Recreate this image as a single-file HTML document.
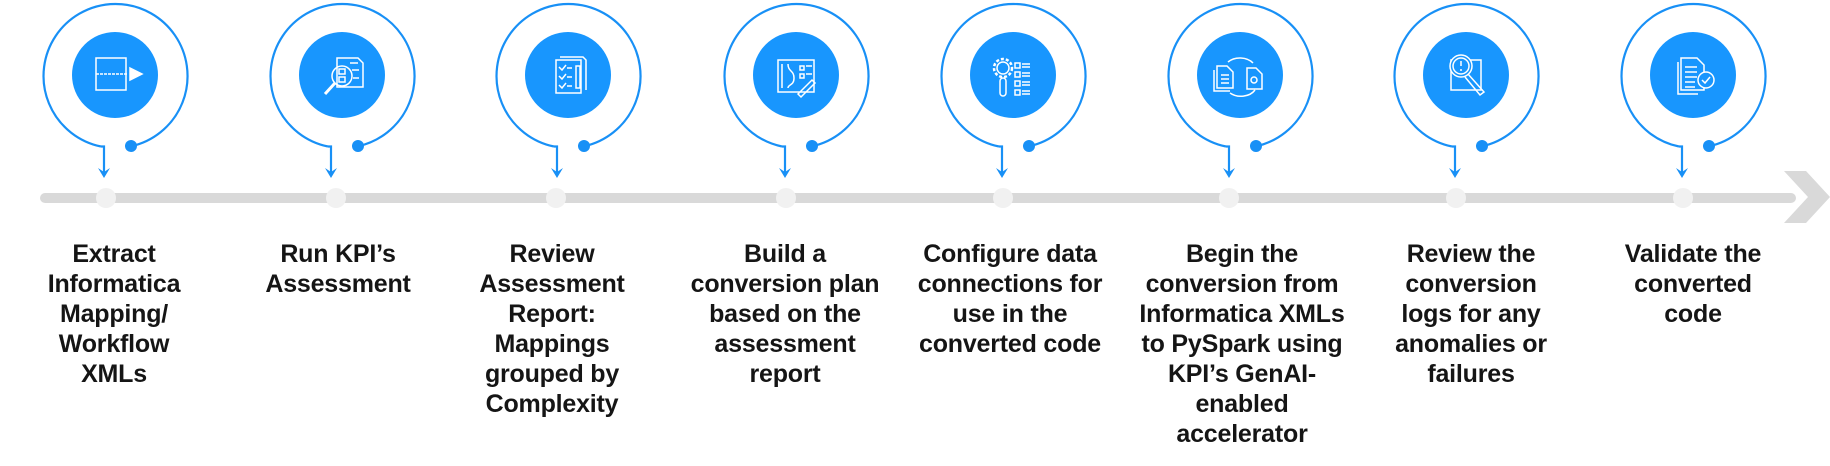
<!DOCTYPE html>
<html><head><meta charset="utf-8"><style>
html,body{margin:0;padding:0;background:#fff;}
body{width:1830px;height:466px;position:relative;overflow:hidden;font-family:"Liberation Sans",Arial,sans-serif;}
svg{position:absolute;left:0;top:0;}
.t{position:absolute;top:239px;width:280px;margin-left:-140px;text-align:center;font-size:25px;line-height:30px;font-weight:bold;color:#151515;white-space:nowrap;letter-spacing:-0.2px;}
</style></head><body>
<svg width="1830" height="466" viewBox="0 0 1830 466">
<defs>
<g id="node">
<path d="M-12 147 L-11 147 M-14 146.5 A72 72 0 1 1 16 146.3" fill="none" stroke="#1890f6" stroke-width="2.2"/>
<path d="M-14 146.5 L-11 146.5 L-11 174" fill="none" stroke="#1890f6" stroke-width="2.2"/>
<path d="M-17 168 L-11 178 L-5 168 L-11 172 Z" fill="#1890f6"/>
<circle cx="16" cy="146" r="6" fill="#1890f6"/>
<circle cx="0" cy="75" r="43" fill="#1896fe"/>
</g>
</defs>
<rect x="40" y="193" width="1756" height="10" rx="5" fill="#d9d9d9"/>
<polygon points="1784,171 1806,171 1830,197 1806,223 1784,223 1808,197" fill="#d9d9d9"/>
<g fill="#f1f1f1">
<circle cx="106" cy="198" r="10"/><circle cx="336" cy="198" r="10"/><circle cx="556" cy="198" r="10"/><circle cx="786" cy="198" r="10"/>
<circle cx="1003" cy="198" r="10"/><circle cx="1229" cy="198" r="10"/><circle cx="1456" cy="198" r="10"/><circle cx="1683" cy="198" r="10"/>
</g>
<use href="#node" x="115"/><use href="#node" x="342"/><use href="#node" x="568"/><use href="#node" x="796"/>
<use href="#node" x="1013"/><use href="#node" x="1240"/><use href="#node" x="1466"/><use href="#node" x="1693"/>
<g fill="none" stroke="#fff" stroke-width="1.5">
<!-- 1 -->
<rect x="96" y="58" width="30" height="32"/><path d="M96 74 H128" stroke-dasharray="3 1"/><path d="M130 68 L142 74 L130 80 Z" fill="#fff"/>
<!-- 2 -->
<path d="M337 58 H358 L363 63 V87 H337 Z"/><circle cx="342" cy="76" r="10"/><rect x="339" y="69" width="6" height="5"/><rect x="339" y="77" width="6" height="5"/><path d="M335 83 L325 94" stroke-width="3"/><path d="M350 63 H358 M352 70 H359 M353 78 H359"/>
<!-- 3 -->
<rect x="556" y="60" width="25" height="33"/><path d="M560 57 H583 L586 60 V90"/><path d="M559 67 l3 3 l4 -5 M559 76 l3 3 l4 -5 M559 85 l3 3 l4 -5 M567 68 H572 M567 77 H572 M567 86 H572"/><rect x="576" y="66" width="4" height="22"/>
<!-- 4 -->
<rect x="778" y="60" width="36" height="32"/><path d="M782 64 V88 M788 64 c0 8 6 6 6 14 s-6 6 -6 10 M800 66 h4 v4 h-4z M800 74 h4 v4 h-4z M806 66 h6 M806 74 h6"/><path d="M798 94 L812 80 L815 83 L801 97 Z"/>
<!-- 5 -->
<circle cx="1003" cy="68" r="6"/><circle cx="1003" cy="68" r="9" stroke-dasharray="3 2" stroke-width="2.5"/><rect x="1000" y="78" width="6" height="18" rx="3"/><path d="M1015 63 h5 v5 h-5z M1015 72 h5 v5 h-5z M1015 81 h5 v5 h-5z M1015 90 h5 v5 h-5z M1022 64 h8 M1022 67 h8 M1022 73 h8 M1022 76 h8 M1022 82 h8 M1022 85 h8 M1022 91 h8 M1022 94 h8"/>
<!-- 6 -->
<path d="M1217 66 H1227 L1233 72 V88 H1217 Z M1214 70 V91 H1230"/><path d="M1221 75 h8 M1221 79 h8 M1221 83 h8"/><path d="M1247 68 H1256 L1262 74 V89 H1247 Z"/><circle cx="1254" cy="80" r="3"/><path d="M1228 62 a16 12 0 0 1 25 1 M1255 90 a16 12 0 0 1 -25 3"/>
<!-- 7 -->
<rect x="1451" y="60" width="30" height="30"/><circle cx="1461" cy="66" r="11" fill="#1896fe"/><circle cx="1461" cy="66" r="8"/><path d="M1461 61 v5 M1461 69 v2"/><path d="M1468 74 L1484 92 L1480 95 L1465 77"/>
<!-- 8 -->
<path d="M1681 58 H1697 L1704 65 V90 H1681 Z M1678 62 V94 H1698"/><path d="M1685 67 h12 M1685 72 h12 M1685 77 h12 M1685 82 h10 M1685 87 h10"/><circle cx="1706" cy="80" r="8" fill="#1896fe"/><path d="M1702 80 l3 3 l5 -6"/>
</g>
</svg>
<div class="t" style="left:114px">Extract<br>Informatica<br>Mapping/<br>Workflow<br>XMLs</div>
<div class="t" style="left:338px">Run KPI’s<br>Assessment</div>
<div class="t" style="left:552px">Review<br>Assessment<br>Report:<br>Mappings<br>grouped by<br>Complexity</div>
<div class="t" style="left:785px">Build a<br>conversion plan<br>based on the<br>assessment<br>report</div>
<div class="t" style="left:1010px">Configure data<br>connections for<br>use in the<br>converted code</div>
<div class="t" style="left:1242px">Begin the<br>conversion from<br>Informatica XMLs<br>to PySpark using<br>KPI’s GenAI-<br>enabled<br>accelerator</div>
<div class="t" style="left:1471px">Review the<br>conversion<br>logs for any<br>anomalies or<br>failures</div>
<div class="t" style="left:1693px">Validate the<br>converted<br>code</div>
</body></html>
